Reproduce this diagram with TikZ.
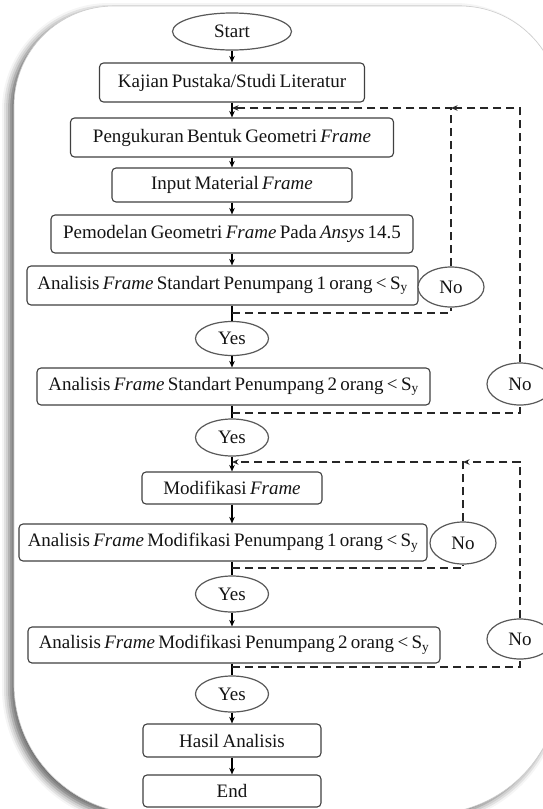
\documentclass[tikz,border=0pt]{standalone}
\usepackage{fontspec}
\setmainfont[WordSpace=0.7]{Liberation Serif}
\usetikzlibrary{shapes.geometric,arrows.meta,shadows.blur}
\begin{document}
\begin{tikzpicture}[x=1pt,y=1pt,
  txt/.style={font=\fontsize{19}{21}\selectfont, text=black!92},
  box/.style={txt, draw=black!75, line width=1.1pt, rounded corners=4pt, fill=white, inner sep=0pt, align=center},
  oval/.style={txt, ellipse, draw=black!65, line width=1.2pt, fill=white, inner sep=0pt},
  arr/.style={line width=1.4pt, -{Stealth[length=6.5pt,width=5.5pt]}},
  ln/.style={line width=1.4pt},
  dsh/.style={line width=2.2pt, black!85, dash pattern=on 8pt off 5pt},
  darr/.style={dsh, -{Stealth[length=6.5pt,width=5.5pt]}}]
\useasboundingbox (0,0) rectangle (542,-809);
% outer frame
\path[fill=white, draw=black!20, line width=0.6pt,
  blur shadow={shadow xshift=-5pt, shadow yshift=-4pt, shadow blur radius=7pt, shadow opacity=60}]
  (14,-684) -- (14,-106) arc[start angle=180,end angle=90,radius=100]
  -- (460,-6) arc[start angle=90,end angle=0,radius=100]
  -- (560,-684) arc[start angle=0,end angle=-90,radius=130]
  -- (144,-814) arc[start angle=270,end angle=180,radius=130] -- cycle;
% nodes
\node[oval, minimum width=119pt, minimum height=37pt] (start) at (232,-31.5) {Start};
\node[box, minimum width=265pt, minimum height=39pt] (kaj) at (232,-82.5) {Kajian Pustaka/Studi Literatur};
\node[box, minimum width=323pt, minimum height=39pt] (peng) at (232,-137.5) {Pengukuran Bentuk Geometri \textit{Frame}};
\node[box, minimum width=240pt, minimum height=34pt] (inp) at (232,-185) {Input Material \textit{Frame}};
\node[box, minimum width=362pt, minimum height=38pt] (pem) at (232,-234) {Pemodelan Geometri \textit{Frame} Pada \textit{Ansys} 14.5};
\node[box, minimum width=391pt, minimum height=39pt] (a1) at (222.5,-285.5) {Analisis \textit{Frame} Standart Penumpang 1 orang < S\textsubscript{y}};
\node[oval, minimum width=66pt, minimum height=40pt] (no1) at (451,-287) {No};
\node[oval, minimum width=73pt, minimum height=34pt] (yes1) at (232,-338.5) {Yes};
\node[box, minimum width=393pt, minimum height=37pt] (a2) at (233.5,-386.5) {Analisis \textit{Frame} Standart Penumpang 2 orang < S\textsubscript{y}};
\node[oval, minimum width=66pt, minimum height=42pt] (no2) at (520,-384) {No};
\node[oval, minimum width=73pt, minimum height=37pt] (yes2) at (232,-437.5) {Yes};
\node[box, minimum width=180pt, minimum height=32pt] (mod) at (232,-488) {Modifikasi \textit{Frame}};
\node[box, minimum width=408pt, minimum height=37pt] (a3) at (223,-542.5) {Analisis \textit{Frame} Modifikasi Penumpang 1 orang < S\textsubscript{y}};
\node[oval, minimum width=66pt, minimum height=42pt] (no3) at (463,-543) {No};
\node[oval, minimum width=73pt, minimum height=36pt] (yes3) at (232,-594) {Yes};
\node[box, minimum width=412pt, minimum height=36pt] (a4) at (234,-645) {Analisis \textit{Frame} Modifikasi Penumpang 2 orang < S\textsubscript{y}};
\node[oval, minimum width=66pt, minimum height=40pt] (no4) at (520,-639) {No};
\node[oval, minimum width=73pt, minimum height=36pt] (yes4) at (232,-694) {Yes};
\node[box, minimum width=178pt, minimum height=33pt] (hasil) at (232,-740.5) {Hasil Analisis};
\node[box, minimum width=178pt, minimum height=32pt] (end) at (232,-791) {End};
% junction points
\coordinate (j1) at (232,-108);
\coordinate (j2) at (232,-462);
\coordinate (b1) at (232,-313);
\coordinate (b2) at (232,-413);
\coordinate (b3) at (232,-568);
\coordinate (b4) at (232,-667);
% solid connectors
\draw[arr] (start.south) -- (kaj.north);
\draw[arr] (kaj.south) -- (peng.north);
\draw[arr] (peng.south) -- (inp.north);
\draw[arr] (inp.south) -- (pem.north);
\draw[arr] (pem.south) -- (pem.south |- a1.north);
\draw[ln] (pem.south |- a1.south) -- (yes1.north);
\draw[arr] (yes1.south) -- (yes1.south |- a2.north);
\draw[ln] (yes1.south |- a2.south) -- (yes2.north);
\draw[arr] (yes2.south) -- (mod.north);
\draw[arr] (mod.south) -- (mod.south |- a3.north);
\draw[ln] (mod.south |- a3.south) -- (yes3.north);
\draw[arr] (yes3.south) -- (yes3.south |- a4.north);
\draw[ln] (yes3.south |- a4.south) -- (yes4.north);
\draw[arr] (yes4.south) -- (hasil.north);
\draw[arr] (hasil.south) -- (end.north);
% dashed loops
\draw[dsh] (b1) -| (no1.south);
\draw[darr] (no1.north) |- (j1);
\draw[dsh] (b2) -| (no2.south);
\draw[darr] (no2.north) |- (no1.north |- j1);
\draw[dsh] (b3) -| (no3.south);
\draw[darr] (no3.north) |- (j2);
\draw[dsh] (b4) -| (no4.south);
\draw[darr] (no4.north) |- (no3.north |- j2);
\end{tikzpicture}
\end{document}
